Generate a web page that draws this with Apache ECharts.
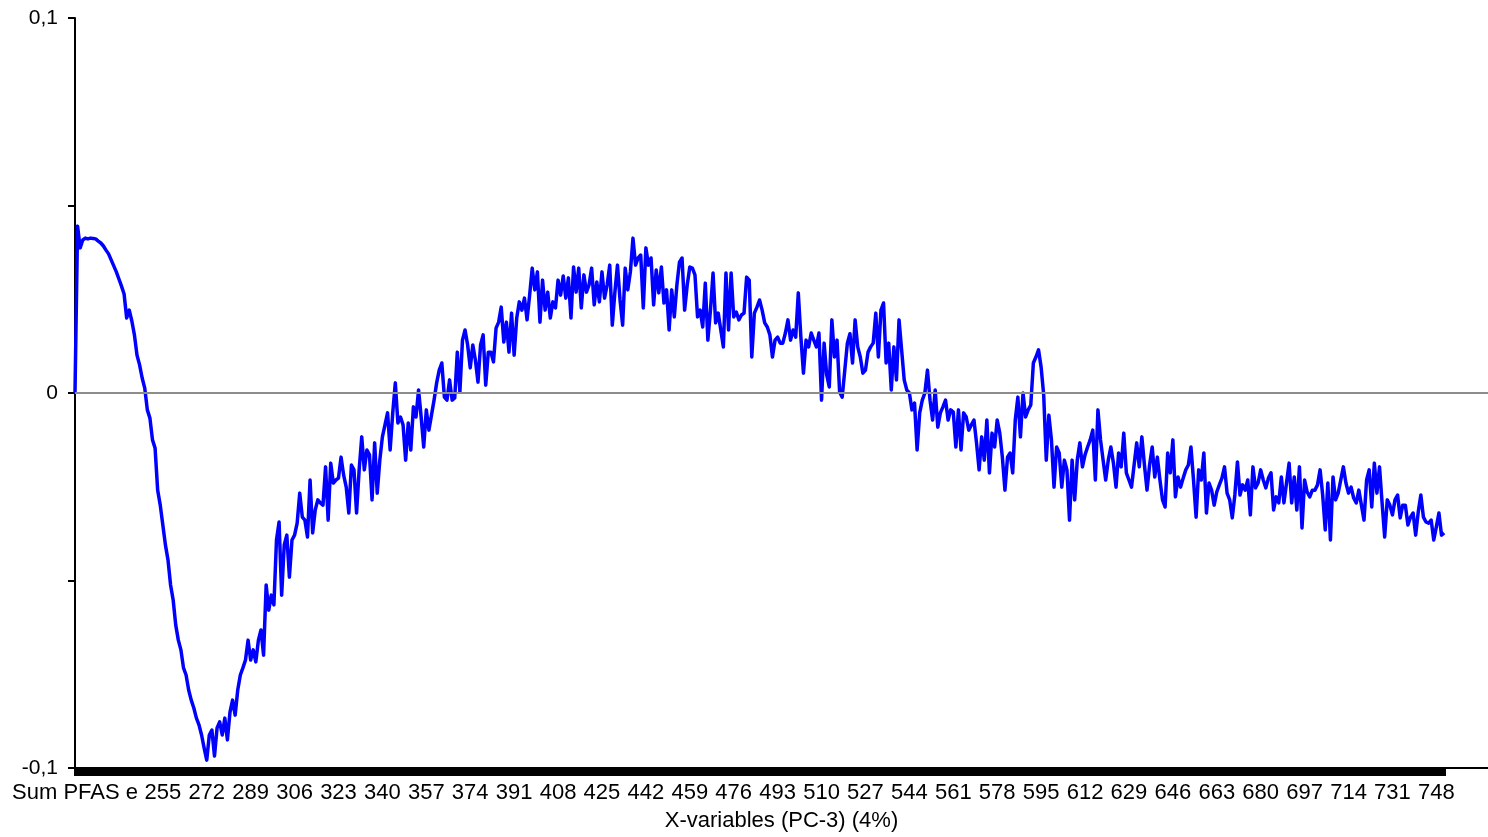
<!DOCTYPE html>
<html>
<head>
<meta charset="utf-8">
<title>X-variables (PC-3)</title>
<script src="https://cdn.jsdelivr.net/npm/echarts@6/dist/echarts.min.js"></script>
<style>
  html, body { margin: 0; padding: 0; background: #fff; }
  #chart { width: 1488px; height: 837px; }
</style>
</head>
<body>
<div id="chart"></div>
<script>
  // x categories: the summed variable first, then one per wavelength (nm)
  const firstCategory = 'Sum PFAS e';
  const wavelengthStart = 222;
  const wavelengthEnd = 751;

  // PC-3 loading per category
  const loadings = [
    0, 0.0445, 0.0387, 0.0408, 0.0413, 0.0411, 0.0413, 0.0412, 0.0411, 0.0405,
    0.0400, 0.0392, 0.0381, 0.0371, 0.0355, 0.0339, 0.0323, 0.0304, 0.0285, 0.0264,
    0.0200, 0.0221, 0.0192, 0.0155, 0.0101, 0.0075, 0.0040, 0.0013, -0.0045, -0.0067,
    -0.0125, -0.0147, -0.0259, -0.0299, -0.0352, -0.0405, -0.0445, -0.0512, -0.0552, -0.0619,
    -0.0659, -0.0685, -0.0733, -0.0752, -0.0792, -0.0819, -0.0840, -0.0867, -0.0885, -0.0912,
    -0.0947, -0.0979, -0.0912, -0.0899, -0.0968, -0.0893, -0.0877, -0.0912, -0.0867, -0.0925,
    -0.0851, -0.0819, -0.0859, -0.0792, -0.0752, -0.0733, -0.0712, -0.0659, -0.0712, -0.0685,
    -0.0717, -0.0659, -0.0632, -0.0699, -0.0512, -0.0579, -0.0539, -0.0565, -0.0392, -0.0344,
    -0.0539, -0.0405, -0.0379, -0.0491, -0.0392, -0.0379, -0.0347, -0.0267, -0.0331, -0.0339,
    -0.0384, -0.0232, -0.0373, -0.0312, -0.0285, -0.0293, -0.0299, -0.0197, -0.0339, -0.0187,
    -0.0240, -0.0232, -0.0227, -0.0171, -0.0219, -0.0251, -0.0320, -0.0192, -0.0205, -0.0320,
    -0.0205, -0.0117, -0.0205, -0.0152, -0.0165, -0.0285, -0.0133, -0.0267, -0.0179, -0.0117,
    -0.0085, -0.0053, -0.0152, -0.0053, 0.0027, -0.0080, -0.0064, -0.0085, -0.0179, -0.0080,
    -0.0152, -0.0037, -0.0064, 0.0008, -0.0064, -0.0144, -0.0045, -0.0099, -0.0059, -0.0019,
    0.0027, 0.0061, 0.0080, -0.0011, -0.0019, 0.0035, -0.0019, -0.0013, 0.0109, 0.0003,
    0.0141, 0.0168, 0.0128, 0.0067, 0.0128, 0.0088, 0.0029, 0.0128, 0.0155, 0.0021,
    0.0109, 0.0109, 0.0083, 0.0173, 0.0189, 0.0229, 0.0136, 0.0189, 0.0109, 0.0213,
    0.0101, 0.0200, 0.0243, 0.0221, 0.0253, 0.0195, 0.0261, 0.0333, 0.0275, 0.0323,
    0.0189, 0.0301, 0.0221, 0.0269, 0.0200, 0.0243, 0.0227, 0.0301, 0.0261, 0.0312,
    0.0253, 0.0307, 0.0200, 0.0336, 0.0269, 0.0333, 0.0227, 0.0315, 0.0269, 0.0288,
    0.0333, 0.0235, 0.0296, 0.0243, 0.0323, 0.0253, 0.0288, 0.0341, 0.0181, 0.0269,
    0.0341, 0.0248, 0.0181, 0.0333, 0.0275, 0.0323, 0.0413, 0.0341, 0.0360, 0.0368,
    0.0227, 0.0387, 0.0341, 0.0360, 0.0235, 0.0328, 0.0267, 0.0336, 0.0240, 0.0275,
    0.0168, 0.0275, 0.0203, 0.0288, 0.0349, 0.0360, 0.0221, 0.0288, 0.0336, 0.0333,
    0.0315, 0.0203, 0.0221, 0.0176, 0.0293, 0.0141, 0.0221, 0.0320, 0.0187, 0.0213,
    0.0168, 0.0123, 0.0320, 0.0168, 0.0320, 0.0203, 0.0216, 0.0195, 0.0208, 0.0213,
    0.0309, 0.0301, 0.0096, 0.0213, 0.0229, 0.0248, 0.0221, 0.0187, 0.0176, 0.0155,
    0.0096, 0.0141, 0.0149, 0.0133, 0.0133, 0.0160, 0.0195, 0.0141, 0.0168, 0.0149,
    0.0267, 0.0149, 0.0053, 0.0141, 0.0123, 0.0160, 0.0141, 0.0123, 0.0160, -0.0019,
    0.0133, 0.0048, 0.0016, 0.0195, 0.0096, 0.0141, 0.0003, -0.0011, 0.0061, 0.0133,
    0.0158, 0.0080, 0.0195, 0.0123, 0.0096, 0.0053, 0.0061, 0.0109, 0.0123, 0.0133,
    0.0213, 0.0096, 0.0221, 0.0240, 0.0080, 0.0133, 0.0008, 0.0123, 0.0035, 0.0195,
    0.0115, 0.0035, 0.0008, 0.0000, -0.0045, -0.0027, -0.0152, -0.0053, -0.0019, 0.0000,
    0.0061, -0.0019, -0.0072, 0.0008, -0.0091, -0.0053, -0.0037, -0.0019, -0.0072, -0.0045,
    -0.0051, -0.0144, -0.0045, -0.0152, -0.0053, -0.0064, -0.0099, -0.0085, -0.0072, -0.0133,
    -0.0205, -0.0117, -0.0179, -0.0072, -0.0213, -0.0107, -0.0144, -0.0072, -0.0107, -0.0171,
    -0.0259, -0.0171, -0.0160, -0.0213, -0.0072, -0.0011, -0.0117, 0.0000, -0.0064, -0.0045,
    -0.0032, 0.0080, 0.0096, 0.0115, 0.0069, -0.0005, -0.0179, -0.0059, -0.0125, -0.0251,
    -0.0144, -0.0160, -0.0251, -0.0179, -0.0205, -0.0339, -0.0179, -0.0285, -0.0179, -0.0133,
    -0.0197, -0.0165, -0.0144, -0.0125, -0.0099, -0.0232, -0.0045, -0.0125, -0.0179, -0.0232,
    -0.0179, -0.0144, -0.0187, -0.0251, -0.0160, -0.0197, -0.0107, -0.0213, -0.0232, -0.0251,
    -0.0192, -0.0133, -0.0197, -0.0117, -0.0192, -0.0259, -0.0192, -0.0144, -0.0224, -0.0171,
    -0.0232, -0.0285, -0.0304, -0.0160, -0.0213, -0.0125, -0.0277, -0.0224, -0.0251, -0.0227,
    -0.0205, -0.0192, -0.0144, -0.0232, -0.0331, -0.0205, -0.0232, -0.0160, -0.0320, -0.0240,
    -0.0259, -0.0299, -0.0264, -0.0245, -0.0227, -0.0197, -0.0267, -0.0285, -0.0333, -0.0272,
    -0.0184, -0.0272, -0.0245, -0.0259, -0.0232, -0.0325, -0.0197, -0.0253, -0.0240, -0.0205,
    -0.0232, -0.0253, -0.0227, -0.0213, -0.0312, -0.0277, -0.0293, -0.0224, -0.0293, -0.0240,
    -0.0187, -0.0293, -0.0224, -0.0312, -0.0197, -0.0360, -0.0232, -0.0264, -0.0277, -0.0259,
    -0.0259, -0.0245, -0.0205, -0.0272, -0.0365, -0.0240, -0.0392, -0.0224, -0.0285, -0.0267,
    -0.0232, -0.0197, -0.0240, -0.0267, -0.0251, -0.0280, -0.0293, -0.0259, -0.0299, -0.0339,
    -0.0232, -0.0205, -0.0304, -0.0187, -0.0267, -0.0197, -0.0293, -0.0384, -0.0285, -0.0299,
    -0.0325, -0.0285, -0.0272, -0.0333, -0.0299, -0.0299, -0.0352, -0.0331, -0.0320, -0.0379,
    -0.0317, -0.0272, -0.0331, -0.0344, -0.0347, -0.0339, -0.0392, -0.0357, -0.0320, -0.0379, -0.0373
  ];

  // y tick labels (only every second tick carries text)
  const yLabelValues = [0.1, 0, -0.1];
  const yLabelTexts = ['0,1', '0', '-0,1'];

  const xAxisTitle = 'X-variables (PC-3) (4%)';

  // every 17th category is labelled; the 17th itself is hidden behind "Sum PFAS e"
  const labelStep = 17;
  const hiddenLabelIndex = 17;
  // empty slots after the last wavelength so the axis runs on to the right edge
  const padCount = 17;

  const categories = [firstCategory];
  for (let w = wavelengthStart; w <= wavelengthEnd; w++) categories.push(String(w));
  const lastIndex = categories.length - 1;
  for (let k = 0; k < padCount; k++) categories.push('pad' + k);

  const fontFamily = '"Liberation Sans", Arial, sans-serif';

  const chart = echarts.init(document.getElementById('chart'), null, { renderer: 'canvas' });

  chart.setOption({
    backgroundColor: '#ffffff',
    animation: false,
    textStyle: { fontFamily: fontFamily },
    grid: { left: 75, right: 0, top: 18, bottom: 69, containLabel: false },
    xAxis: {
      type: 'category',
      data: categories,
      boundaryGap: false,
      name: xAxisTitle,
      nameLocation: 'middle',
      nameGap: 42,
      nameTextStyle: { color: '#000', fontSize: 22, fontFamily: fontFamily },
      axisLine: { onZero: false, lineStyle: { color: '#000', width: 2 } },
      axisTick: {
        interval: (index) => index <= lastIndex,
        length: 8,
        lineStyle: { color: '#000', width: 3 }
      },
      axisLabel: {
        interval: (index) => index <= lastIndex && index % labelStep === 0 && index !== hiddenLabelIndex,
        color: '#000',
        fontSize: 22,
        margin: 14
      },
      splitLine: { show: false }
    },
    yAxis: {
      type: 'value',
      min: -0.1,
      max: 0.1,
      interval: 0.05,
      axisLine: { show: true, lineStyle: { color: '#000', width: 2 } },
      axisTick: { show: true, length: 7, lineStyle: { color: '#000', width: 2 } },
      axisLabel: {
        color: '#000',
        fontSize: 21,
        margin: 17,
        formatter: (v) => {
          const i = yLabelValues.findIndex(t => Math.abs(t - v) < 1e-9);
          return i >= 0 ? yLabelTexts[i] : '';
        }
      },
      splitLine: { show: false }
    },
    series: [
      {
        // zero reference line, kept under the data line
        type: 'line',
        data: [],
        z: 1,
        silent: true,
        markLine: {
          silent: true,
          symbol: ['none', 'none'],
          label: { show: false },
          lineStyle: { color: '#8c8c8c', type: 'solid', width: 2 },
          data: [{ yAxis: 0 }]
        }
      },
      {
        name: 'PC-3',
        type: 'line',
        data: loadings,
        z: 3,
        showSymbol: false,
        symbol: 'none',
        lineStyle: { color: '#0000ff', width: 3.5, join: 'round' }
      }
    ]
  });

  window.addEventListener('resize', () => chart.resize());
</script>
</body>
</html>
